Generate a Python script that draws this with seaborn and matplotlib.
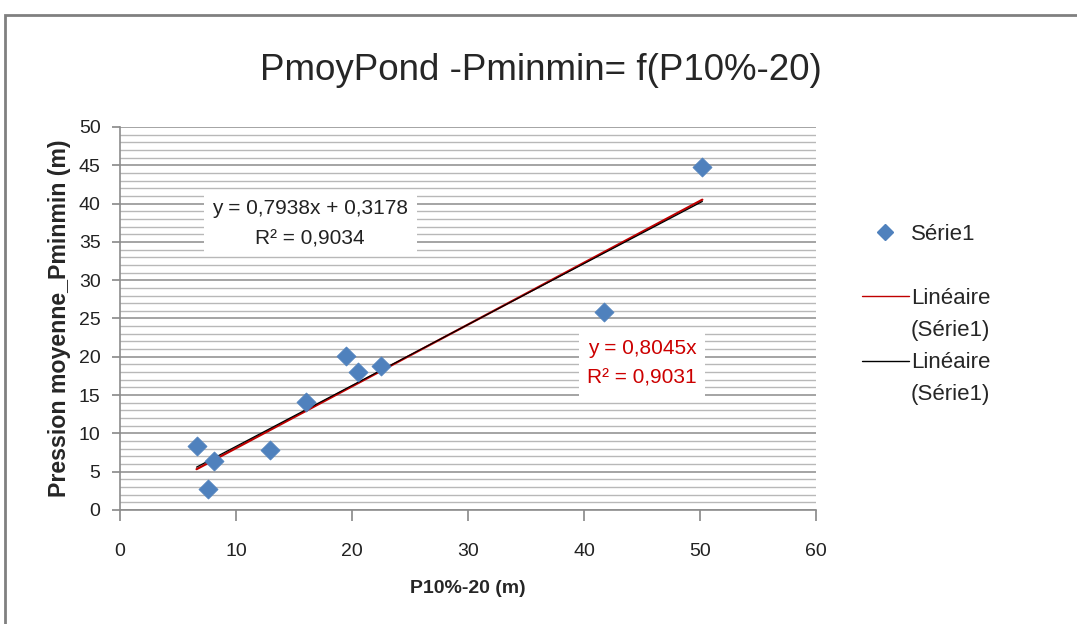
import numpy as np
import pandas as pd
import matplotlib
matplotlib.use("Agg")
import matplotlib.pyplot as plt
from matplotlib.lines import Line2D
from matplotlib.patches import Rectangle
from matplotlib.ticker import MultipleLocator
import seaborn as sns

sns.set_theme(style="white")
plt.rcParams['font.family'] = ['Liberation Sans', 'DejaVu Sans']

# valeurs
p10_20 = [6.6, 8.1, 7.6, 12.9, 16.0, 19.5, 20.5, 22.5, 41.7, 50.2]
pmoy_pminmin = [8.3, 6.4, 2.8, 7.8, 14.1, 20.1, 18.0, 18.8, 25.9, 44.8]

eq_affine = "y = 0,7938x + 0,3178\nR² = 0,9034"
eq_origine = "y = 0,8045x\nR² = 0,9031"

df = pd.DataFrame({'x': p10_20, 'y': pmoy_pminmin})

# droites de tendance
a, b = np.polyfit(df['x'], df['y'], 1)
k = (df['x'] * df['y']).sum() / (df['x'] ** 2).sum()
xs = np.array([df['x'].min(), df['x'].max()])
trend = pd.DataFrame({'x': xs, 'affine': a * xs + b, 'origine': k * xs})

fig = plt.figure(figsize=(10.77, 6.24), dpi=100)
ax = fig.add_axes([0.1114, 0.1827, 0.6463, 0.6138])

sns.scatterplot(data=df, x='x', y='y', marker='D', s=95, color='#4F81BD',
                edgecolor='#4F81BD', linewidth=0.5, ax=ax, zorder=4)
sns.lineplot(data=trend, x='x', y='origine', color='#C00000', linewidth=1.6, ax=ax, zorder=3)
sns.lineplot(data=trend, x='x', y='affine', color='black', linewidth=0.9, ax=ax, zorder=3)

ax.set_xlim(0, 60)
ax.set_ylim(0, 50)
ax.xaxis.set_major_locator(MultipleLocator(10))
ax.yaxis.set_major_locator(MultipleLocator(5))
ax.yaxis.set_minor_locator(MultipleLocator(1))
ax.grid(which='major', axis='y', color='#8c8c8c', linewidth=1.1)
ax.grid(which='minor', axis='y', color='#b8b8b8', linewidth=1.0)
ax.set_axisbelow(True)
for s in ['top', 'right']:
    ax.spines[s].set_visible(False)
for s in ['left', 'bottom']:
    ax.spines[s].set_color('#8c8c8c')
    ax.spines[s].set_linewidth(1.2)
ax.tick_params(axis='y', which='major', direction='out', length=6, color='#8c8c8c',
               left=True, labelsize=14, pad=8, labelcolor='#222222')
ax.tick_params(axis='y', which='minor', left=False)
ax.tick_params(axis='x', direction='out', length=8, color='#8c8c8c', bottom=True,
               labelsize=14, pad=16, labelcolor='#222222')

ax.set_xlabel('P10%-20 (m)', fontsize=14, fontweight='bold', labelpad=14)
ax.set_ylabel('Pression moyenne_Pminmin (m)', fontsize=16.7, fontweight='bold')
ax.yaxis.set_label_coords(-0.071, 0.5)

fig.text(0.502, 0.887, 'PmoyPond -Pminmin= f(P10%-20)', ha='center', va='center', fontsize=26.5)

ax.text(16.4, 37.4, eq_affine, ha='center', va='center', fontsize=15, color='#222222',
        linespacing=1.75, zorder=5,
        bbox=dict(boxstyle='square,pad=0.4', facecolor='white', edgecolor='none'))
ax.text(45.0, 19.1, eq_origine, ha='center', va='center', fontsize=15, color='#CC0000',
        linespacing=1.7, zorder=5,
        bbox=dict(boxstyle='square,pad=0.4', facecolor='white', edgecolor='none'))

blank = Line2D([], [], linestyle='none')
handles = [
    Line2D([], [], marker='D', linestyle='none', color='#4F81BD', markersize=8),
    blank,
    Line2D([], [], color='#C00000', linewidth=1),
    blank,
    Line2D([], [], color='black', linewidth=1),
    blank,
]
labels = ['Série1', ' ', 'Linéaire', '(Série1)', 'Linéaire', '(Série1)']
fig.legend(handles, labels, loc='upper left', bbox_to_anchor=(0.790, 0.659),
           frameon=False, fontsize=16, labelspacing=0.5, handlelength=2.1,
           handletextpad=0.1, borderpad=0)

fig.patches.append(Rectangle((0.0046, -0.1), 1.2, 1.076, transform=fig.transFigure,
                             fill=False, edgecolor='#808080', linewidth=2))

fig.savefig('out.png', dpi=100)
